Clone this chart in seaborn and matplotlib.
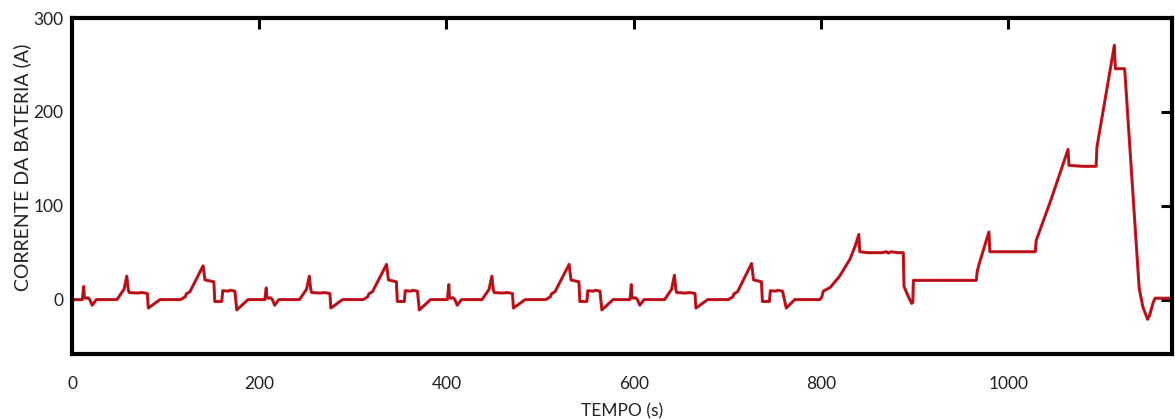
import numpy as np
import pandas as pd
import matplotlib
matplotlib.use("Agg")
import matplotlib.pyplot as plt
import seaborn as sns

# Battery current over the drive cycle: four urban segments followed by the extra-urban segment
ece1_t = [0, 11, 12.5, 13.2, 15, 17, 19, 21.5, 26, 48, 55.5, 58.5, 60, 61, 70, 75, 80.5, 81.5, 94,
          116, 121, 122, 126, 140, 142, 151.5, 152.5, 160, 161, 167, 169, 174, 176, 188, 195]
ece1_i = [0, 0, 14, 2, 1.5, 2, 0, -6, 0, 0, 11, 25, 11, 7.5, 7, 7.5, 6.5, -9, 0,
          0, 3, 6, 8.5, 36, 21, 19, -2, -2, 9.5, 9, 10, 9, -11, 0, 0]

ece2_t = [196, 206, 207.5, 208.2, 210, 212, 214, 216.5, 221, 243, 250.5, 253.5, 255, 256, 265, 270, 275.5, 276.5, 289,
          311, 316, 317, 321, 336, 338, 346.5, 347.5, 355, 356, 362, 364, 369, 371, 383, 390]
ece2_i = [0, 0, 12.5, 2, 1.5, 2, 0, -6, 0, 0, 11, 25, 11, 7.5, 7, 7.5, 6.5, -9, 0,
          0, 3, 6, 8.5, 37.5, 21, 19, -2, -2, 9.5, 9, 10, 9, -11, 0, 0]

ece3_t = [391, 401, 402.5, 403.2, 405, 407, 409, 411.5, 416, 438, 445.5, 448.5, 450, 451, 460, 465, 470.5, 471.5, 484,
          506, 511, 512, 516, 531, 533, 541.5, 542.5, 550, 551, 557, 559, 564, 566, 578, 585]
ece3_i = [0, 0, 16, 2, 1.5, 2, 0, -6, 0, 0, 11, 25, 11, 7.5, 7, 7.5, 6.5, -9, 0,
          0, 3, 6, 8.5, 37.5, 21, 19, -2, -2, 9.5, 9, 10, 9, -11, 0, 0]

ece4_t = [586, 596, 597.5, 598.2, 600, 602, 604, 606.5, 611, 633, 640.5, 643.5, 645, 646, 655, 660, 665.5, 666.5, 679,
          701, 706, 707, 711, 726, 728, 736.5, 737.5, 745, 746, 752, 754, 759, 763, 772, 780]
ece4_i = [0, 0, 16, 2, 1.5, 2, 0, -6, 0, 0, 11, 26, 11, 7.5, 7, 7.5, 6.5, -9, 0,
          0, 3, 6, 8.5, 38.5, 21, 19, -2, -2, 9.5, 9, 10, 9, -9, 0, 0]

eudc_t = [781, 799, 801, 802.5, 810, 820, 831, 837, 840.5, 841.5, 850, 865, 870, 872, 875, 882, 888,
          888.8, 893, 897, 898.2, 898.8, 930, 966, 967, 969, 979.5, 980.5, 1000, 1029,
          1030, 1046, 1064, 1065, 1080, 1094, 1094.8, 1113.5, 1114.5, 1124.5,
          1140, 1144, 1149, 1151, 1155, 1157, 1180]
eudc_i = [0, 0, 3, 9, 13, 25, 43, 58, 69.5, 51, 50, 50, 51, 49.5, 51, 50, 50,
          14, 4, -4, -3, 20.5, 20.5, 20.5, 30, 38, 72, 51, 51, 51,
          63, 107, 160, 143, 142, 142, 162, 271, 246, 246,
          12, -8, -21, -17, -3, 1.5, 1.5]

time_s = ece1_t + ece2_t + ece3_t + ece4_t + eudc_t
current_a = ece1_i + ece2_i + ece3_i + ece4_i + eudc_i
df = pd.DataFrame({"TEMPO (s)": time_s, "CORRENTE DA BATERIA (A)": current_a})

x_ticks = [0, 200, 400, 600, 800, 1000]
y_ticks = [0, 100, 200, 300]

sns.set_style("white")
plt.rcParams["font.family"] = ["Lato", "DejaVu Sans"]

fig = plt.figure(figsize=(11.75, 4.19), dpi=100)
ax = fig.add_axes([0.0613, 0.155, 0.9361, 0.802])

sns.lineplot(data=df, x="TEMPO (s)", y="CORRENTE DA BATERIA (A)", ax=ax,
             sort=False, estimator=None, color="#d8121c", linewidth=2.2)
sns.lineplot(data=df, x="TEMPO (s)", y="CORRENTE DA BATERIA (A)", ax=ax,
             sort=False, estimator=None, color="#4a1c1c", linewidth=0.7, alpha=0.55)

ax.set_xlim(0, 1175)
ax.set_ylim(-58, 300)
ax.set_xticks(x_ticks)
ax.set_yticks(y_ticks)
ax.set_xticklabels([str(v) for v in x_ticks])
ax.set_yticklabels([str(v) for v in y_ticks])

for sp in ax.spines.values():
    sp.set_visible(True)
    sp.set_linewidth(3.0)
    sp.set_color("black")

ax.tick_params(axis="both", which="major", direction="in", length=8, width=2.2,
               top=True, right=True, labelsize=12.5, colors="black", labelcolor="#222222")
ax.tick_params(axis="x", pad=16)
ax.tick_params(axis="y", pad=6)

ax.set_xlabel("TEMPO (s)", fontsize=12.5, color="#222222", labelpad=8)
ax.set_ylabel("CORRENTE DA BATERIA (A)", fontsize=14, color="#222222")
ax.yaxis.set_label_coords(-0.037, 0.555)

fig.savefig("out.png", dpi=100)
